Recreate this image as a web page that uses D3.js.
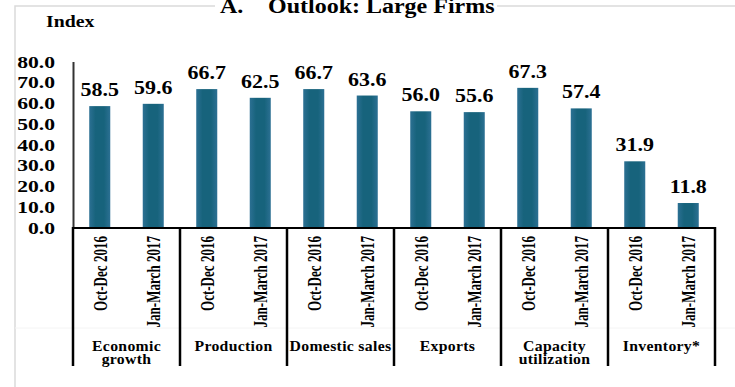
<!DOCTYPE html>
<html>
<head>
<meta charset="utf-8">
<script src="https://cdn.jsdelivr.net/npm/d3@7/dist/d3.min.js"></script>
<style>
  html, body { margin: 0; padding: 0; background: #fff; }
  svg { display: block; }
  text { font-family: "Liberation Serif", "Times New Roman", serif; font-weight: bold; fill: #000; }
</style>
</head>
<body>
<script>
// Survey outlook indices for large firms, by indicator and quarter
const categories = ["Economic\ngrowth", "Production", "Domestic sales", "Exports", "Capacity\nutilization", "Inventory*"];
const periods = ["Oct-Dec 2016", "Jan-March 2017"];
const octDec2016 = [58.5, 66.7, 66.7, 56.0, 67.3, 31.9];
const janMar2017 = [59.6, 62.5, 63.6, 55.6, 57.4, 11.8];
const yTicks = [0, 10, 20, 30, 40, 50, 60, 70, 80];
const titleLetter = "A.";
const titleText = "Outlook: Large Firms";
const yAxisTitle = "Index";

const seriesByPeriod = [octDec2016, janMar2017];
const rows = categories.map((c, i) => ({
  category: c,
  values: periods.map((p, j) => ({ category: c, period: p, value: seriesByPeriod[j][i] }))
}));

const W = 735, H = 387;
const svg = d3.select("body").append("svg").attr("width", W).attr("height", H);

const defs = svg.append("defs");
const grad = defs.append("linearGradient").attr("id", "barFill")
  .attr("x1", "0%").attr("x2", "100%").attr("y1", "0%").attr("y2", "0%");
grad.append("stop").attr("offset", "0%").attr("stop-color", "#2c7093");
grad.append("stop").attr("offset", "30%").attr("stop-color", "#17637c");
grad.append("stop").attr("offset", "70%").attr("stop-color", "#17637c");
grad.append("stop").attr("offset", "100%").attr("stop-color", "#2c7093");

// outer frame
svg.append("path").attr("d", `M15,${H}V6H${W}`)
  .attr("fill", "none").attr("stroke", "#dadada").attr("stroke-width", 1.5);

// helper: place text with a horizontal stretch
function place(sel, x, y, sx, rot) {
  sel.attr("x", 0).attr("y", 0)
    .attr("transform", `translate(${x},${y})` + (rot ? ` rotate(${rot})` : "") + ` scale(${sx},1)`);
  return sel;
}

// title
svg.append("rect").attr("x", 215).attr("y", 0).attr("width", 282).attr("height", 16).attr("fill", "#fff");
place(svg.append("text").text(titleLetter).attr("font-size", 20), 220, 13, 1.2);
place(svg.append("text").text(titleText).attr("font-size", 20), 268, 13, 1.2);

// y axis title
place(svg.append("text").text(yAxisTitle).attr("font-size", 16.5), 46, 26.5, 1.2);

// scales
const x0 = d3.scaleBand().domain(categories).range([73, 715]);
const x1 = d3.scaleBand().domain(periods).range([0, x0.bandwidth()])
  .paddingInner(0.607).paddingOuter(0.3035);
const y = d3.scaleLinear().domain([0, 80]).range([227.5, 61.5]);

// y axis
const yAxis = svg.append("g").attr("transform", "translate(73,0)")
  .call(d3.axisLeft(y).tickValues(yTicks).tickFormat(d3.format(".1f")).tickSize(0).tickSizeOuter(0));
yAxis.select(".domain").attr("stroke", "#333").attr("stroke-width", 2);
yAxis.selectAll(".tick text")
  .attr("font-size", 16).attr("text-anchor", "end").attr("dy", null)
  .attr("font-family", null).attr("fill", null)
  .each(function () { place(d3.select(this), -18, 5.5, 1.35); });
yAxis.attr("font-family", null).attr("font-size", null);

// bars
const groups = svg.append("g").selectAll("g").data(rows).join("g")
  .attr("transform", d => `translate(${x0(d.category)},0)`);

groups.selectAll("rect").data(d => d.values).join("rect")
  .attr("x", d => x1(d.period))
  .attr("width", x1.bandwidth())
  .attr("y", d => y(d.value))
  .attr("height", d => y(0) - y(d.value))
  .attr("fill", "url(#barFill)");

// value labels
groups.selectAll("text.val").data(d => d.values).join("text")
  .attr("class", "val")
  .attr("font-size", 18)
  .attr("text-anchor", "middle")
  .text(d => d3.format(".1f")(d.value))
  .each(function (d) {
    place(d3.select(this), x1(d.period) + x1.bandwidth() / 2, y(d.value) - 10, 1.22);
  });

// category axis frame
const axisG = svg.append("g");
axisG.append("line").attr("x1", 15).attr("x2", W).attr("y1", 328).attr("y2", 328)
  .attr("stroke", "#f4f4f4").attr("stroke-width", 1);
axisG.append("line").attr("x1", 72).attr("x2", 716).attr("y1", 228).attr("y2", 228)
  .attr("stroke", "#000").attr("stroke-width", 2);
const bounds = categories.map(c => x0(c)).concat([x0.range()[1]]);
axisG.selectAll("line.sep").data(bounds).join("line")
  .attr("class", "sep")
  .attr("x1", d => d).attr("x2", d => d)
  .attr("y1", 227).attr("y2", 366)
  .attr("stroke", "#000").attr("stroke-width", 2.5);

// period labels (rotated)
groups.selectAll("text.per").data(d => d.values).join("text")
  .attr("class", "per")
  .attr("font-size", 18)
  .attr("text-anchor", "end")
  .text(d => d.period)
  .each(function (d) {
    place(d3.select(this), x1(d.period) + x1.bandwidth() / 2 + 7, 236, 0.725, -90);
  });

// category labels
groups.each(function (d) {
  const lines = d.category.split("\n");
  const g = d3.select(this);
  lines.forEach((ln, k) => {
    place(g.append("text").attr("font-size", 15).attr("text-anchor", "middle")
      .attr("letter-spacing", 0.3).text(ln),
      x0.bandwidth() / 2, 350.5 + k * 13, 1.05);
  });
});
</script>
</body>
</html>
